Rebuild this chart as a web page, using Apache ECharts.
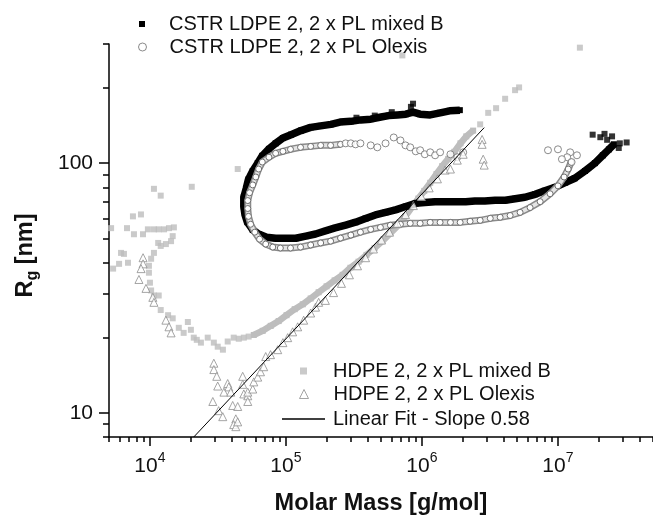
<!DOCTYPE html>
<html><head><meta charset="utf-8">
<script src="https://cdn.jsdelivr.net/npm/echarts@6/dist/echarts.min.js"></script>
<style>html,body{margin:0;padding:0;background:#fff}#c{width:653px;height:521px}</style>
</head><body><div id="c"></div>
<script>
// ---- tick values / labels ----
const xMajorTicks = [1e4, 1e5, 1e6, 1e7];
const xTickExponents = ['4', '5', '6', '7'];
const xMinorTicks = [5e3,6e3,7e3,8e3,9e3,2e4,3e4,4e4,5e4,6e4,7e4,8e4,9e4,2e5,3e5,4e5,5e5,6e5,7e5,8e5,9e5,2e6,3e6,4e6,5e6,6e6,7e6,8e6,9e6,2e7,3e7,4e7,5e7];
const yMajorTicks = [10, 100];
const yTickLabels = ['10', '100'];
const yMinorTicks = [8,9,20,30,40,50,60,70,80,90,200,300];

// ---- series names ----
const nameLdpeMixed = 'CSTR LDPE 2, 2 x PL mixed B';
const nameLdpeOlexis = 'CSTR LDPE 2, 2 x PL Olexis';
const nameHdpeMixed = 'HDPE 2, 2 x PL mixed B';
const nameHdpeOlexis = 'HDPE 2, 2 x PL Olexis';
const nameFit = 'Linear Fit - Slope 0.58';

// ---- data: [molar mass g/mol, Rg nm] ----
const ldpeMixedCurve = [[1.9e6,163],[1.6e6,162],[1.36e6,159],[1.15e6,156],[9.7e5,157],[8.6e5,160],[7.6e5,157],[6.6e5,156],[5.7e5,155],[5e5,153],[4.2e5,150],[3.55e5,149],[3e5,147],[2.5e5,146],[2.14e5,143],[1.8e5,141],[1.52e5,139],[1.29e5,135],[1.09e5,130],[9.5e4,126],[8.4e4,120],[7.5e4,114],[6.7e4,107],[6.2e4,100],[5.7e4,93],[5.3e4,86],[5.1e4,79],[4.9e4,73],[4.9e4,67],[5e4,62],[5.2e4,58],[5.7e4,54],[6.3e4,52],[7.2e4,50.5],[8.4e4,50],[1e5,50],[1.18e5,50],[1.4e5,51],[1.65e5,52],[1.95e5,53.5],[2.3e5,55],[2.75e5,56.5],[3.25e5,58],[3.85e5,60],[4.55e5,62],[5.4e5,63.5],[6.4e5,65],[7.6e5,67],[9e5,69],[1.05e6,69.5],[1.25e6,70],[1.48e6,70],[1.75e6,70],[2.1e6,70],[2.45e6,70.5],[2.9e6,70.5],[3.45e6,71],[4.1e6,71],[4.85e6,72],[5.7e6,73],[6.8e6,75],[8e6,77.5],[9.5e6,80],[1.13e7,83.5],[1.33e7,87],[1.58e7,93],[1.87e7,100],[2.14e7,107.5],[2.37e7,113.5],[2.58e7,119]];
const ldpeMixedSparse = [[8.6e5,173],[8.3e5,168],[6.0e5,160],[4.5e5,155],[3.3e5,152],[2.85e7,120],[3.2e7,121],[2.05e7,127],[1.8e7,130],[2.3e7,124],[2.5e7,128],[2.8e7,115],[2.2e7,131]];

const ldpeOlexisBand = [[2.52e5,118.9],[2.13e5,117.8],[1.8e5,117.8],[1.52e5,116.7],[1.28e5,115.7],[1.08e5,113.6],[9.5e4,111.5],[8.4e4,109.5],[7.5e4,105.6],[6.7e4,101],[6.3e4,94.7],[6e4,88],[5.7e4,81.8],[5.4e4,76.1],[5.24e4,70.8],[5.24e4,65.8],[5.3e4,61.2],[5.5e4,56.9],[5.9e4,52.9],[6.4e4,49.6],[7.1e4,47.4],[8e4,46.1],[9.1e4,45.7],[1.08e5,45.7],[1.28e5,46.1],[1.52e5,47],[1.8e5,47.9],[2.13e5,48.7],[2.52e5,50.1],[3e5,51.5],[3.53e5,52.9],[4.2e5,54.3],[4.95e5,55.3],[5.86e5,56.4],[6.95e5,56.9],[8.2e5,57.4],[9.7e5,57.4],[1.15e6,57.9],[1.36e6,57.9],[1.62e6,57.9],[1.91e6,57.9],[2.26e6,58.5],[2.68e6,59],[3.18e6,60.1],[3.76e6,60.7],[4.45e6,61.7],[5.27e6,63.5],[6.24e6,66.4],[7.4e6,70.1],[8.75e6,75.4],[1e7,81.1],[1.11e7,88],[1.19e7,94.7],[1.25e7,101]];
const ldpeOlexisSparse = [[2.75e5,120],[3e5,120],[3.25e5,118.9],[3.53e5,120],[4.2e5,117.8],[4.7e5,115.7],[5.4e5,120],[6.2e5,126.7],[6.95e5,123.3],[7.57e5,117.8],[8.2e5,115.7],[9.0e5,111.5],[9.7e5,112.6],[1.05e6,108.5],[1.15e6,110.5],[1.25e6,107.5],[1.36e6,110.5],[1.62e6,108.5],[1.82e6,105.6],[2.01e6,110.5],[8.45e6,112.6],[1e7,113.6],[1.23e7,110.5],[1.17e7,105.6],[1.38e7,107.5],[1.07e7,103.7],[1.26e7,101]];

const hdpeMixedSparse = [[7.18e5,270],[1.45e7,290],[4.42e4,94.7],[1.07e4,78.9],[1.2e4,74.1],[2.03e4,80.4],[7.5e3,61.2],[8.59e3,62.3],[6.78e3,54.9],[5.18e3,54.9],[7.63e3,51.9],[8.89e3,51.9],[9.66e3,54.3],[1.07e4,54.3],[1.16e4,54.3],[1.27e4,54.3],[1.38e4,54.9],[1.5e4,55.3],[1.47e4,51],[1.43e4,48.7],[1.31e4,47.4],[1.2e4,46.6],[1.15e4,47.9],[6.13e3,43.7],[6.44e3,43.3],[6.9e3,39.9],[5.93e3,39.5],[5.36e3,37.8],[1.07e4,43.7],[1.02e4,41.4],[9.83e3,38.8],[9.83e3,36.4],[1e4,33.2],[1.02e4,30.9],[1.07e4,29.5],[1.16e4,29.5],[1.2e4,25.8],[1.36e4,24.6],[1.47e4,23.9],[1.63e4,21.9],[1.77e4,20.9],[1.9e4,23.1],[2e4,21.5],[2.1e4,20],[2.21e4,19.6],[2.37e4,19.1],[2.66e4,20],[2.95e4,19.1],[3.15e4,18.4],[3.44e4,17.9],[3.73e4,19.3],[4.13e4,20],[4.5e4,19.8],[4.9e4,20],[5.32e4,20.2],[2.68e6,143],[3.07e6,159],[3.51e6,166],[4.09e6,181],[4.84e6,196],[5.18e6,201]];
const hdpeMixedBand = [[5.8e4,20.5],[6.75e4,21.3],[7.73e4,22.3],[8.84e4,23.3],[1.01e5,24.6],[1.16e5,26],[1.33e5,27.2],[1.52e5,28.7],[1.74e5,30.4],[1.99e5,32.1],[2.28e5,33.9],[2.61e5,35.7],[2.98e5,38.1],[3.42e5,40.3],[3.91e5,42.9],[4.48e5,45.7],[5.12e5,48.7],[5.86e5,52.4],[6.71e5,56.4],[7.55e5,61.2],[8.5e5,67],[9.4e5,72.1],[1.04e6,77.4],[1.15e6,83.4],[1.28e6,90.5],[1.41e6,97.3],[1.56e6,104],[1.73e6,111],[1.92e6,120],[2.12e6,128],[2.38e6,135]];

const hdpeOlexis = [[8.9e3,41.8],[8.9e3,39.5],[8.6e3,37.8],[8.3e3,34.2],[9.35e3,31.5],[1.05e4,29],[1.07e4,27.7],[1.31e4,23.5],[1.38e4,22.1],[1.43e4,20.9],[2.95e4,15.8],[2.95e4,14.9],[3.1e4,14],[2.9e4,11.1],[3.15e4,12.8],[3.5e4,12.1],[3.73e4,13.1],[3.8e4,12.7],[3.93e4,12.1],[3.2e4,10.2],[3.43e4,9.65],[4.06e4,10.7],[4.42e4,10.6],[4.81e4,14],[4.81e4,13],[4.9e4,11.9],[5.24e4,11.7],[5.24e4,11.1],[4.28e4,9.46],[4.13e4,8.97],[4.28e4,8.8],[4.42e4,9.2],[5.24e4,12.1],[5.7e4,12.45],[5.8e4,13.3],[6.2e4,13.9],[6.5e4,14.6],[6.86e4,15.3],[7.1e4,16.8],[7.7e4,17.1],[8.7e4,17.9],[9.5e4,19.1],[1.03e5,20],[1.12e5,21.1],[1.22e5,22.1],[1.35e5,23.5],[1.52e5,25.1],[1.65e5,26.5],[1.74e5,27.7],[1.95e5,28.2],[2.24e5,30.3],[2.56e5,33],[2.93e5,35.7],[3.36e5,38.8],[3.85e5,41.8],[4.4e5,45.3],[5.04e5,49.2],[5.77e5,52.9],[6.6e5,57.4],[7.57e5,62.2],[8.65e5,67.6],[9.9e5,73.5],[1.13e6,79.6],[1.3e6,86.5],[1.48e6,93.8],[2.77e6,124.4],[2.77e6,118.9],[2.82e6,103.7],[2.87e6,98.2],[2.01e6,108.5],[1.82e6,102.8],[1.62e6,94.7]];

const fitMolarMass = [2.1e4, 2.87e6];
const fitRg = [8.0, 138.7];

// ---- build ----
const FONT = 'Liberation Sans, Arial, Helvetica, sans-serif';
const fitLine = fitMolarMass.map((m, i) => [m, fitRg[i]]);
const cGray = '#bdbdbd';
const cCircle = '#6e6e6e';
const cTri = '#8e8e8e';

function legendOf(name, left, top, w, h, gap, item) {
  return {
    show: true, orient: 'vertical', left: left, top: top, padding: 0,
    itemWidth: w, itemHeight: h, selectedMode: false,
    data: [Object.assign({ name: name }, item || {})],
    formatter: n => '{g| }' + n,
    textStyle: { fontFamily: FONT, fontSize: 20, color: '#111', lineHeight: 20,
      rich: { g: { width: gap, fontSize: 20, lineHeight: 20 } } }
  };
}

const axisCommon = { type: 'log', logBase: 10, splitLine: { show: false } };

const option = {
  animation: false,
  backgroundColor: '#fff',
  grid: { left: 109, top: 44, right: 0, bottom: 77, containLabel: false },
  legend: [
    legendOf(nameLdpeMixed, 139, 14, 6, 6, 19, { icon: 'rect', itemStyle: { color: '#000' } }),
    legendOf(nameLdpeOlexis, 138, 37, 8, 8, 18, { icon: 'circle', itemStyle: { color: '#fff', borderColor: cCircle, borderWidth: 1 } }),
    legendOf(nameHdpeMixed, 300, 361, 7, 7, 21, { icon: 'rect', itemStyle: { color: cGray } }),
    legendOf(nameHdpeOlexis, 299, 384, 9, 9, 20, { icon: 'triangle', itemStyle: { color: '#fff', borderColor: cTri, borderWidth: 1 } }),
    legendOf(nameFit, 282, 409, 43, 1.4, 3, { icon: 'rect', itemStyle: { color: '#000', borderWidth: 0 } })
  ],
  xAxis: [
    Object.assign({}, axisCommon, {
      position: 'bottom', min: 5e3, max: 5e7,
      axisLine: { show: true, lineStyle: { color: '#000', width: 1.5 } },
      axisTick: { show: true, customValues: xMajorTicks, length: 9, lineStyle: { color: '#000', width: 1.5 } },
      axisLabel: { show: true, customValues: xMajorTicks, margin: 14, color: '#111',
        formatter: v => {
          const i = xMajorTicks.findIndex(t => Math.abs(Math.log10(t) - Math.log10(v)) < 0.01);
          return '{b|10}{s|' + (i >= 0 ? xTickExponents[i] : '') + '}';
        },
        rich: { b: { fontFamily: FONT, fontSize: 21, lineHeight: 30, color: '#111' },
                s: { fontFamily: FONT, fontSize: 14, lineHeight: 10, verticalAlign: 'top', color: '#111' } } },
      name: 'Molar Mass [g/mol]', nameLocation: 'middle', nameGap: 55,
      nameTextStyle: { fontFamily: FONT, fontSize: 23.5, fontWeight: 'bold', color: '#111' }
    }),
    Object.assign({}, axisCommon, {
      position: 'bottom', min: 5e3, max: 5e7,
      axisLine: { show: false },
      axisTick: { show: true, customValues: xMinorTicks, length: 5, lineStyle: { color: '#000', width: 1.5 } },
      axisLabel: { show: false }
    })
  ],
  yAxis: [
    Object.assign({}, axisCommon, {
      position: 'left', min: 8, max: 300,
      axisLine: { show: true, lineStyle: { color: '#000', width: 1.5 } },
      axisTick: { show: true, customValues: yMajorTicks, length: 10, lineStyle: { color: '#000', width: 1.5 } },
      axisLabel: { show: true, customValues: yMajorTicks, margin: 16, color: '#111',
        fontFamily: FONT, fontSize: 21,
        formatter: v => { const i = yMajorTicks.findIndex(t => Math.abs(t - v) < 0.01 * t); return i >= 0 ? yTickLabels[i] : ''; } },
      name: '{r|R}{s|g}{r| [nm]}', nameLocation: 'middle', nameGap: 68, nameRotate: 90,
      nameTextStyle: { padding: [0, 30, 0, 0], rich: {
        r: { fontFamily: FONT, fontSize: 23.5, fontWeight: 'bold', lineHeight: 30, color: '#111' },
        s: { fontFamily: FONT, fontSize: 16, fontWeight: 'bold', lineHeight: 14, verticalAlign: 'bottom', color: '#111' } } }
    }),
    Object.assign({}, axisCommon, {
      position: 'left', min: 8, max: 300,
      axisLine: { show: false },
      axisTick: { show: true, customValues: yMinorTicks, length: 6, lineStyle: { color: '#000', width: 1.5 } },
      axisLabel: { show: false }
    })
  ],
  series: [
    { name: nameHdpeMixed, type: 'scatter', data: hdpeMixedSparse, symbol: 'rect', symbolSize: 6,
      itemStyle: { color: cGray }, z: 2 },
    { name: 'hdpe-band', type: 'line', data: hdpeMixedBand, symbol: 'rect', symbolSize: 6, showSymbol: true,
      itemStyle: { color: cGray }, lineStyle: { color: cGray, width: 6.5 }, z: 2 },
    { name: nameLdpeMixed, type: 'line', data: ldpeMixedCurve, symbol: 'rect', symbolSize: 6, showSymbol: true,
      itemStyle: { color: '#000' }, lineStyle: { color: '#000', width: 7.5, join: 'round' }, z: 3 },
    { name: 'ldpe-mixed-sparse', type: 'scatter', data: ldpeMixedSparse, symbol: 'rect', symbolSize: 6,
      itemStyle: { color: '#000' }, z: 3 },
    { name: 'ldpe-olexis-outer', type: 'line', data: ldpeOlexisBand, showSymbol: false, symbol: 'none',
      lineStyle: { color: '#8a8a8a', width: 7, join: 'round' }, z: 4 },
    { name: 'ldpe-olexis-inner', type: 'line', data: ldpeOlexisBand, symbol: 'circle', symbolSize: 6, showSymbol: true,
      itemStyle: { color: '#fff', borderColor: cCircle, borderWidth: 1 },
      lineStyle: { color: '#e4e4e4', width: 4, join: 'round' }, z: 4 },
    { name: nameLdpeOlexis, type: 'scatter', data: ldpeOlexisSparse, symbol: 'circle', symbolSize: 7,
      itemStyle: { color: '#fff', borderColor: cCircle, borderWidth: 1 }, z: 4 },
    { name: nameHdpeOlexis, type: 'scatter', data: hdpeOlexis, symbol: 'triangle', symbolSize: 8,
      itemStyle: { color: '#fff', borderColor: cTri, borderWidth: 1 }, z: 5 },
    { name: nameFit, type: 'line', data: fitLine, symbol: 'none', showSymbol: false,
      lineStyle: { color: '#000', width: 1 }, itemStyle: { color: '#000' }, z: 6 }
  ]
};
const chart = echarts.init(document.getElementById('c'), null, { renderer: 'canvas' });
chart.setOption(option);
</script></body></html>
